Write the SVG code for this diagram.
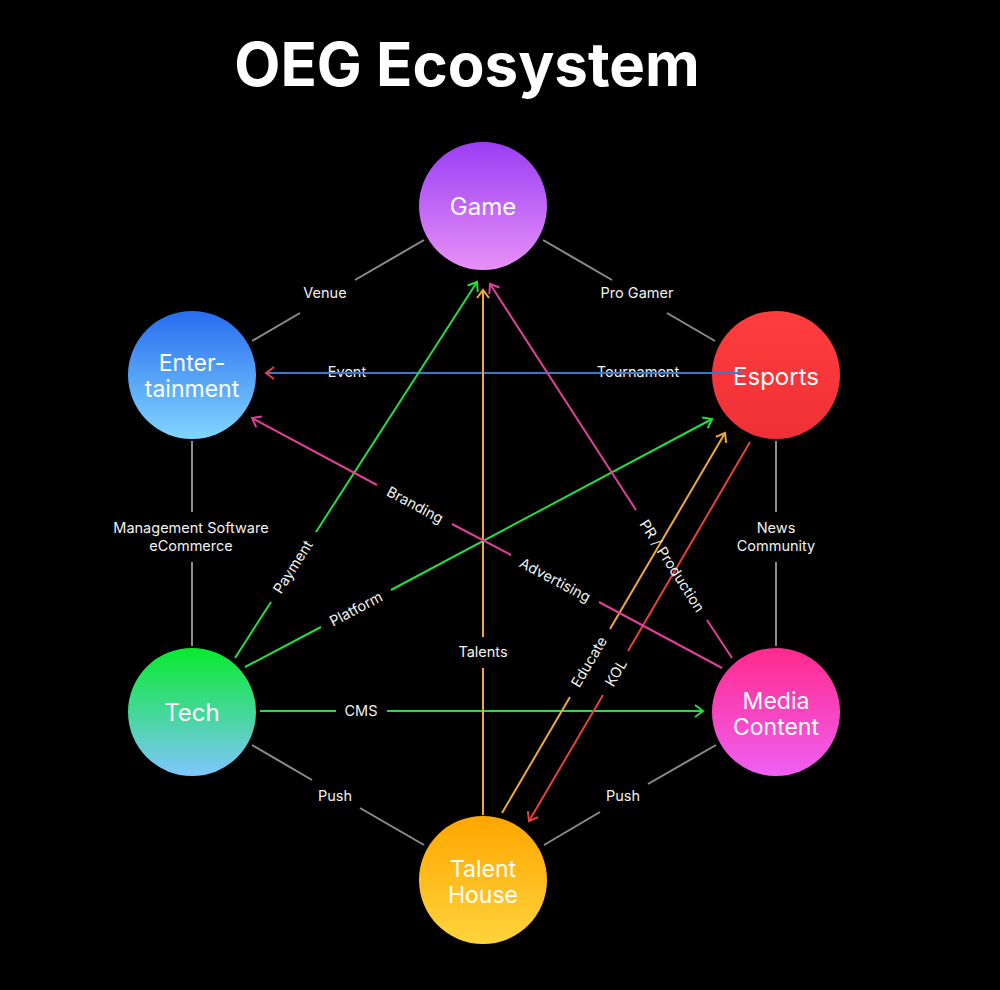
<svg xmlns="http://www.w3.org/2000/svg" width="1000" height="990" viewBox="0 0 1000 990">
<style>
text{font-family:Inter,"Liberation Sans",sans-serif;fill:#fff}
.title{font-size:60px;font-weight:700;text-anchor:middle}
.node{font-size:24px;text-anchor:middle}
.node2{font-size:23px;text-anchor:middle}
.lbl{font-size:14.5px;text-anchor:middle;fill:#f2f2f2}
.gray{stroke:#8c8c8c;stroke-width:2;fill:none}
.c{stroke-width:2;fill:none}
</style>
<defs>
<linearGradient id="gGame" x1="0" y1="0" x2="0" y2="1"><stop offset="0" stop-color="#9a3ef4"/><stop offset="1" stop-color="#e890f8"/></linearGradient>
<linearGradient id="gEnt" x1="0" y1="0" x2="0" y2="1"><stop offset="0" stop-color="#286cef"/><stop offset="1" stop-color="#80d6ff"/></linearGradient>
<linearGradient id="gEsp" x1="0" y1="0" x2="0" y2="1"><stop offset="0" stop-color="#ff3d3d"/><stop offset="1" stop-color="#ef3036"/></linearGradient>
<linearGradient id="gTech" x1="0" y1="0" x2="0" y2="1"><stop offset="0" stop-color="#08ea2e"/><stop offset="1" stop-color="#80c6ff"/></linearGradient>
<linearGradient id="gMed" x1="0" y1="0" x2="0" y2="1"><stop offset="0" stop-color="#ff2a8c"/><stop offset="1" stop-color="#f060f4"/></linearGradient>
<linearGradient id="gTal" x1="0" y1="0" x2="0" y2="1"><stop offset="0" stop-color="#ffa600"/><stop offset="1" stop-color="#ffd43c"/></linearGradient>
<marker id="aGreen" markerUnits="userSpaceOnUse" markerWidth="14" markerHeight="14" viewBox="0 0 14 14" refX="12" refY="7" orient="auto"><path d="M4,1 L12,7 L4,13" fill="none" stroke="#22dd44" stroke-width="2"/></marker>
<marker id="aOrange" markerUnits="userSpaceOnUse" markerWidth="14" markerHeight="14" viewBox="0 0 14 14" refX="12" refY="7" orient="auto"><path d="M4,1 L12,7 L4,13" fill="none" stroke="#f0a83a" stroke-width="2"/></marker>
<marker id="aRed" markerUnits="userSpaceOnUse" markerWidth="14" markerHeight="14" viewBox="0 0 14 14" refX="12" refY="7" orient="auto"><path d="M4,1 L12,7 L4,13" fill="none" stroke="#e8403a" stroke-width="2"/></marker>
<marker id="aPink" markerUnits="userSpaceOnUse" markerWidth="14" markerHeight="14" viewBox="0 0 14 14" refX="12" refY="7" orient="auto"><path d="M4,1 L12,7 L4,13" fill="none" stroke="#e0409a" stroke-width="2"/></marker>
</defs>
<rect width="1000" height="990" fill="#000"/>
<text class="title" x="467" y="86">OEG Ecosystem</text>

<g id="nodes">
<g id="game"><circle cx="483" cy="206" r="64" fill="url(#gGame)"/><text class="node" x="483" y="215">Game</text></g>
<g id="entertainment"><circle cx="192" cy="375" r="64" fill="url(#gEnt)"/><text class="node2" x="192" y="371">Enter-</text><text class="node2" x="192" y="397">tainment</text></g>
<g id="esports"><circle cx="776" cy="375" r="64" fill="url(#gEsp)"/><text class="node" x="776" y="385">Esports</text></g>
<g id="tech"><circle cx="192" cy="712" r="64" fill="url(#gTech)"/><text class="node" x="192" y="721">Tech</text></g>
<g id="media"><circle cx="776" cy="712" r="64" fill="url(#gMed)"/><text class="node2" x="776" y="709">Media</text><text class="node2" x="776" y="735">Content</text></g>
<g id="talent"><circle cx="483" cy="880" r="64" fill="url(#gTal)"/><text class="node2" x="483" y="877">Talent</text><text class="node2" x="483" y="903">House</text></g>
</g>

<g id="connectors">
<path class="gray" d="M424,240 L355,280 M300,313 L252,341"/>
<text class="lbl" x="325" y="298">Venue</text>
<path class="gray" d="M543,240 L612,280 M667,313 L715,341"/>
<text class="lbl" x="637" y="298">Pro Gamer</text>
<path class="gray" d="M192,441 L192,512 M192,562 L192,646"/>
<text class="lbl" x="191" y="533">Management Software</text>
<text class="lbl" x="191" y="551">eCommerce</text>
<path class="gray" d="M776,441 L776,512 M776,562 L776,646"/>
<text class="lbl" x="776" y="533">News</text>
<text class="lbl" x="776" y="551">Community</text>
<path class="gray" d="M252,745 L312,780 M360,808 L424,845"/>
<text class="lbl" x="335" y="801">Push</text>
<path class="gray" d="M716,745 L648,784 M600,812 L544,845"/>
<text class="lbl" x="623" y="801">Push</text>

<text class="lbl" x="347" y="377">Event</text>
<text class="lbl" x="638" y="377">Tournament</text>
<path class="c" stroke="#3a78c8" d="M742,373 L266,373" marker-end="url(#aRed)"/>

<path class="c" stroke="#22dd44" d="M235,658 L271,602 M316,532 L477,282" marker-end="url(#aGreen)"/>
<text class="lbl" transform="translate(293,567) rotate(-57.3)" y="5">Payment</text>
<path class="c" stroke="#22dd44" d="M245,667 L321,627 M391,590 L712,419" marker-end="url(#aGreen)"/>
<text class="lbl" transform="translate(356,609) rotate(-28)" y="5">Platform</text>
<path class="c" stroke="#22dd44" d="M260,711 L336,711 M387,711 L703,711" marker-end="url(#aGreen)"/>
<text class="lbl" x="361" y="716">CMS</text>

<path class="c" stroke="#f0a83a" d="M483,815 L483,668 M483,637 L483,290" marker-end="url(#aOrange)"/>
<text class="lbl" x="483" y="657">Talents</text>
<path class="c" stroke="#f0a83a" d="M502,813 L570,697 M610,629 L725,433" marker-end="url(#aOrange)"/>
<text class="lbl" transform="translate(589,662) rotate(-59.6)" y="5">Educate</text>

<path class="c" stroke="#e8403a" d="M750,442 L628,651 M603,695 L529,821" marker-end="url(#aRed)"/>
<text class="lbl" transform="translate(616,673) rotate(-59.8)" y="5">KOL</text>

<path class="c" stroke="#e0409a" d="M732,658 L707,620 M636,510 L490,284" marker-end="url(#aPink)"/>
<text class="lbl" transform="translate(672,566) rotate(57.1)" y="5">PR / Production</text>
<path class="c" stroke="#e0409a" d="M722,668 L599,602 M511,555 L452,524 M377,485 L252,418" marker-end="url(#aPink)"/>
<text class="lbl" transform="translate(415,505) rotate(28)" y="5">Branding</text>
<text class="lbl" transform="translate(555,580) rotate(28)" y="5">Advertising</text>
</g>
</svg>
